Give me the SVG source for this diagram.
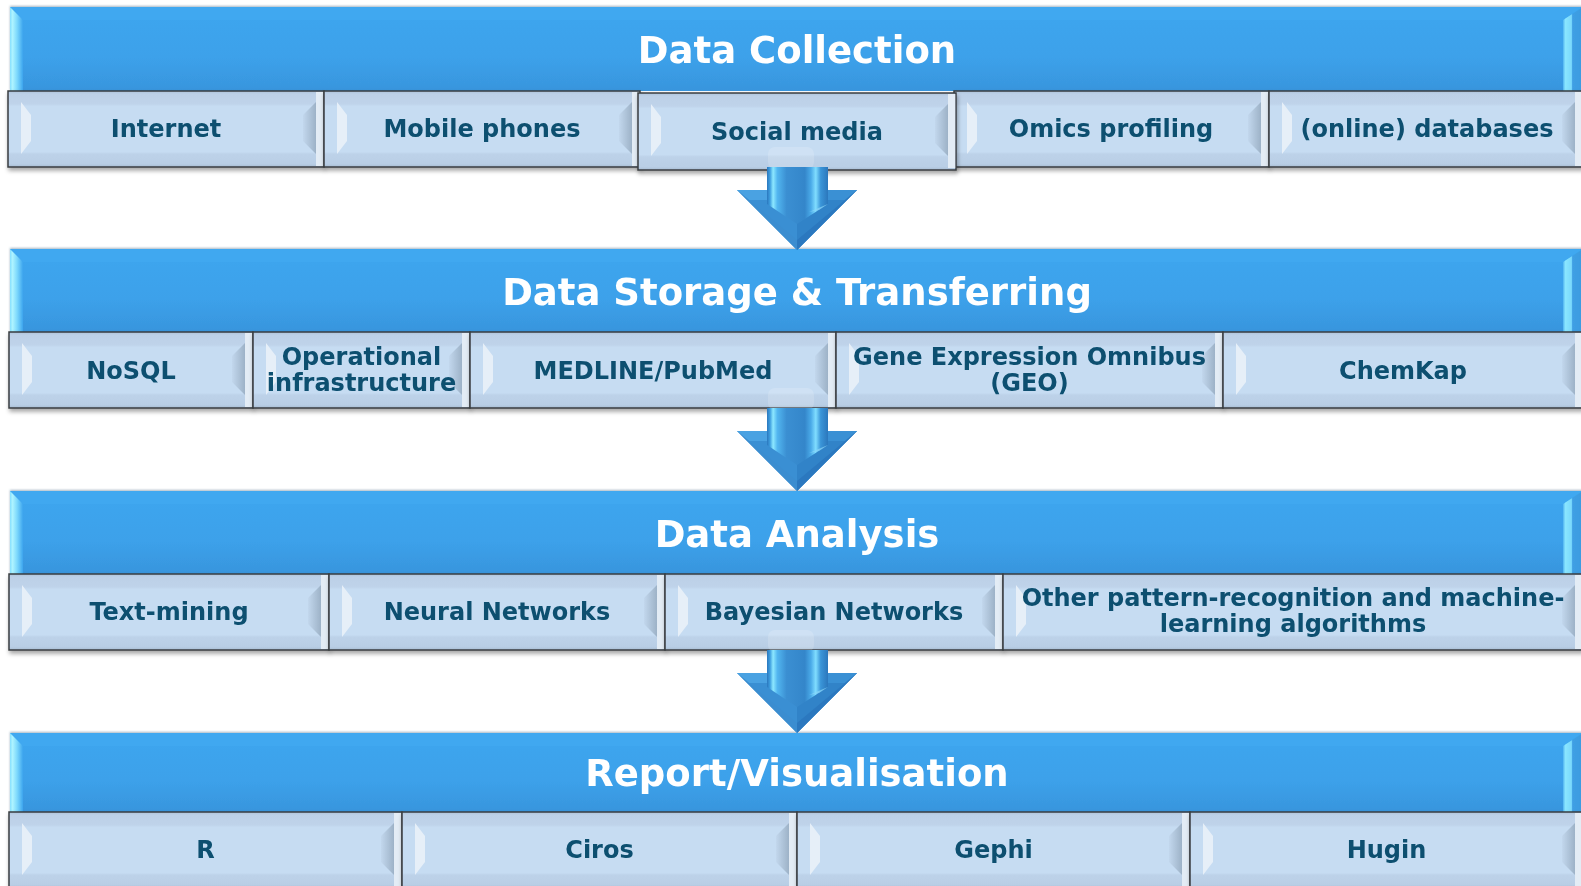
<svg xmlns="http://www.w3.org/2000/svg" xmlns:xlink="http://www.w3.org/1999/xlink" width="1581" height="886" viewBox="0 0 1581 886">
  <style>
    .hdr-body { fill: url(#hdrBody); }
    .hdr-top { fill: #3fa8f0; }
    .hdr-txt { font-family: "DejaVu Sans", Verdana, sans-serif; font-weight: bold; font-size: 37px; fill: #ffffff; text-anchor: middle; }
    .cell-body { fill: url(#cellBody); stroke: #3a3d40; stroke-width: 1.5; }
    .cell-txt { font-family: "DejaVu Sans", Verdana, sans-serif; font-weight: bold; font-size: 24px; fill: #0b4f6f; text-anchor: middle; }
    .glow { fill: #ffffff; opacity: 0.16; }
  </style>
  <defs>
    <linearGradient id="hdrBody" x1="0" y1="0" x2="0" y2="1">
      <stop offset="0" stop-color="#3da6ef"/>
      <stop offset="0.6" stop-color="#3ca1ea"/>
      <stop offset="1" stop-color="#3895dd"/>
    </linearGradient>
    <linearGradient id="hdrLeft" x1="0" y1="0" x2="1" y2="0">
      <stop offset="0" stop-color="#86e0ff"/>
      <stop offset="0.2" stop-color="#aef4ff"/>
      <stop offset="0.55" stop-color="#7cd8fc"/>
      <stop offset="1" stop-color="#3ea5ee"/>
    </linearGradient>
    <linearGradient id="hdrRight" x1="0" y1="0" x2="1" y2="0">
      <stop offset="0" stop-color="#4fb3f1"/>
      <stop offset="0.12" stop-color="#8ae6ff"/>
      <stop offset="0.42" stop-color="#7ad9fc"/>
      <stop offset="0.48" stop-color="#3f9fe4"/>
      <stop offset="1" stop-color="#3a9be0"/>
    </linearGradient>
    <linearGradient id="cellBody" x1="0" y1="0" x2="0" y2="1">
      <stop offset="0" stop-color="#aec3da"/>
      <stop offset="0.04" stop-color="#bcd0e7"/>
      <stop offset="0.17" stop-color="#bfd3ea"/>
      <stop offset="0.2" stop-color="#c6dcf2"/>
      <stop offset="0.8" stop-color="#c6dcf2"/>
      <stop offset="0.83" stop-color="#bdd2e9"/>
      <stop offset="0.96" stop-color="#b9cee5"/>
      <stop offset="1" stop-color="#a7bcd2"/>
    </linearGradient>
    <linearGradient id="cellRight" x1="0" y1="0" x2="1" y2="0">
      <stop offset="0" stop-color="#c2d7ed"/>
      <stop offset="1" stop-color="#9db2c7"/>
    </linearGradient>
    <linearGradient id="shaft" x1="0" y1="0" x2="1" y2="0">
      <stop offset="0" stop-color="#2a77bd"/>
      <stop offset="0.05" stop-color="#3f9fe0"/>
      <stop offset="0.1" stop-color="#8de8ff"/>
      <stop offset="0.17" stop-color="#52b6f0"/>
      <stop offset="0.32" stop-color="#3b8fd2"/>
      <stop offset="0.62" stop-color="#3486ca"/>
      <stop offset="0.72" stop-color="#4aaae8"/>
      <stop offset="0.8" stop-color="#80ddff"/>
      <stop offset="0.88" stop-color="#3a95d8"/>
      <stop offset="1" stop-color="#2b77bc"/>
    </linearGradient>
    <filter id="shadow" x="-5%" y="-20%" width="110%" height="150%">
      <feDropShadow dx="1" dy="3" stdDeviation="2" flood-color="#000000" flood-opacity="0.35"/>
    </filter>
    <filter id="hdrShadow" x="-5%" y="-20%" width="110%" height="150%">
      <feDropShadow dx="0" dy="-1" stdDeviation="1" flood-color="#4a6a88" flood-opacity="0.5"/>
    </filter>

    <!-- bevel faces of a header band, drawn from its top-left / top-right corner -->
    <g id="hdrL">
      <polygon points="0,0 13,13 13,84 0,84" fill="url(#hdrLeft)"/>
    </g>
    <g id="hdrR">
      <polygon points="0,0 -20,13 -20,84 0,84" fill="url(#hdrRight)"/>
    </g>

    <!-- bevel faces of a tile, drawn from its top-left / top-right corner -->
    <g id="bevL">
      <polygon points="13,11 23,24 23,50 13,63" fill="#e6eff8"/>
    </g>
    <g id="bevR">
      <rect x="-8" y="1" width="7.2" height="74" fill="#e3ecf5"/>
      <polygon points="-8,11 -21,24 -21,50 -8,63" fill="url(#cellRight)"/>
    </g>

    <!-- downward block arrow, origin at the tip -->
    <g id="arrow">
      <rect x="-29" y="-103" width="46" height="22" class="glow" rx="7"/>
      <polygon points="-60,-60 60,-60 0,0" fill="#3a8fd3"/>
      <polygon points="0,-60 60,-60 0,0" fill="#3183c8"/>
      <polygon points="-60,-60 -30,-60 -22,-50 -48,-50" fill="#4aa2e2"/>
      <polygon points="60,-60 31,-60 23,-50 48,-50" fill="#3a90d4"/>
      <polygon points="-48,-50 0,-10 0,0 -60,-60" fill="#3b8dd0"/>
      <polygon points="48,-50 0,-10 0,0 60,-60" fill="#2b78bf"/>
      <polygon points="-30,-83 31,-83 31,-46 0,-26 -30,-46" fill="url(#shaft)"/>
      <polygon points="31,-46 22,-40 12,-38" fill="#8ad6f8" opacity="0.7"/>
    </g>
  </defs>

  <rect width="1581" height="886" fill="#ffffff"/>

  <!-- ===== Stage 1 ===== -->
  <g id="hdr-collection" filter="url(#hdrShadow)">
    <rect class="hdr-body" x="10" y="7" width="1573" height="84"/>
    <polygon class="hdr-top" points="10,7 1583,7 1563,20 23,20"/>
    <use href="#hdrL" x="10" y="7"/>
    <use href="#hdrR" x="1583" y="7"/>
    <text class="hdr-txt" x="797" y="63">Data Collection</text>
  </g>
  <g id="cell-internet" filter="url(#shadow)">
    <rect class="cell-body" x="8" y="91" width="316" height="76"/>
    <use href="#bevL" x="8" y="91"/><use href="#bevR" x="324" y="91"/>
    <text class="cell-txt" x="166" y="137">Internet</text>
  </g>
  <g id="cell-mobile" filter="url(#shadow)">
    <rect class="cell-body" x="324" y="91" width="316" height="76"/>
    <use href="#bevL" x="324" y="91"/><use href="#bevR" x="640" y="91"/>
    <text class="cell-txt" x="482" y="137">Mobile phones</text>
  </g>
  <g id="cell-omics" filter="url(#shadow)">
    <rect class="cell-body" x="954" y="91" width="315" height="76"/>
    <use href="#bevL" x="954" y="91"/><use href="#bevR" x="1269" y="91"/>
    <text class="cell-txt" x="1111" y="137">Omics profiling</text>
  </g>
  <g id="cell-databases" filter="url(#shadow)">
    <rect class="cell-body" x="1269" y="91" width="314" height="76"/>
    <use href="#bevL" x="1269" y="91"/><use href="#bevR" x="1583" y="91"/>
    <text class="cell-txt" x="1427" y="137">(online) databases</text>
  </g>
  <g id="cell-social" filter="url(#shadow)">
    <rect class="cell-body" x="638" y="93" width="318" height="77"/>
    <use href="#bevL" x="638" y="93"/><use href="#bevR" x="956" y="93"/>
    <text class="cell-txt" x="797" y="140">Social media</text>
  </g>

  <!-- ===== Stage 2 ===== -->
  <g id="hdr-storage" filter="url(#hdrShadow)">
    <rect class="hdr-body" x="10" y="249" width="1573" height="83"/>
    <polygon class="hdr-top" points="10,249 1583,249 1563,262 23,262"/>
    <use href="#hdrL" x="10" y="249"/>
    <use href="#hdrR" x="1583" y="249"/>
    <text class="hdr-txt" x="797" y="305">Data Storage &amp; Transferring</text>
  </g>
  <g id="cell-nosql" filter="url(#shadow)">
    <rect class="cell-body" x="9" y="332" width="244" height="76"/>
    <use href="#bevL" x="9" y="332"/><use href="#bevR" x="253" y="332"/>
    <text class="cell-txt" x="131" y="379">NoSQL</text>
  </g>
  <g id="cell-operational" filter="url(#shadow)">
    <rect class="cell-body" x="253" y="332" width="217" height="76"/>
    <use href="#bevL" x="253" y="332"/><use href="#bevR" x="470" y="332"/>
    <text class="cell-txt" x="361.5" y="365">Operational</text>
    <text class="cell-txt" x="361.5" y="391">infrastructure</text>
  </g>
  <g id="cell-medline" filter="url(#shadow)">
    <rect class="cell-body" x="470" y="332" width="366" height="76"/>
    <use href="#bevL" x="470" y="332"/><use href="#bevR" x="836" y="332"/>
    <text class="cell-txt" x="653" y="379">MEDLINE/PubMed</text>
  </g>
  <g id="cell-geo" filter="url(#shadow)">
    <rect class="cell-body" x="836" y="332" width="387" height="76"/>
    <use href="#bevL" x="836" y="332"/><use href="#bevR" x="1223" y="332"/>
    <text class="cell-txt" x="1029.5" y="365">Gene Expression Omnibus</text>
    <text class="cell-txt" x="1029.5" y="391">(GEO)</text>
  </g>
  <g id="cell-chemkap" filter="url(#shadow)">
    <rect class="cell-body" x="1223" y="332" width="360" height="76"/>
    <use href="#bevL" x="1223" y="332"/><use href="#bevR" x="1583" y="332"/>
    <text class="cell-txt" x="1403" y="379">ChemKap</text>
  </g>

  <!-- ===== Stage 3 ===== -->
  <g id="hdr-analysis" filter="url(#hdrShadow)">
    <rect class="hdr-body" x="10" y="491" width="1573" height="83"/>
    <polygon class="hdr-top" points="10,491 1583,491 1563,504 23,504"/>
    <use href="#hdrL" x="10" y="491"/>
    <use href="#hdrR" x="1583" y="491"/>
    <text class="hdr-txt" x="797" y="547">Data Analysis</text>
  </g>
  <g id="cell-textmining" filter="url(#shadow)">
    <rect class="cell-body" x="9" y="574" width="320" height="76"/>
    <use href="#bevL" x="9" y="574"/><use href="#bevR" x="329" y="574"/>
    <text class="cell-txt" x="169" y="620">Text-mining</text>
  </g>
  <g id="cell-neural" filter="url(#shadow)">
    <rect class="cell-body" x="329" y="574" width="336" height="76"/>
    <use href="#bevL" x="329" y="574"/><use href="#bevR" x="665" y="574"/>
    <text class="cell-txt" x="497" y="620">Neural Networks</text>
  </g>
  <g id="cell-bayesian" filter="url(#shadow)">
    <rect class="cell-body" x="665" y="574" width="338" height="76"/>
    <use href="#bevL" x="665" y="574"/><use href="#bevR" x="1003" y="574"/>
    <text class="cell-txt" x="834" y="620">Bayesian Networks</text>
  </g>
  <g id="cell-other" filter="url(#shadow)">
    <rect class="cell-body" x="1003" y="574" width="580" height="76"/>
    <use href="#bevL" x="1003" y="574"/><use href="#bevR" x="1583" y="574"/>
    <text class="cell-txt" x="1293" y="606">Other pattern-recognition and machine-</text>
    <text class="cell-txt" x="1293" y="632">learning algorithms</text>
  </g>

  <!-- ===== Stage 4 ===== -->
  <g id="hdr-report" filter="url(#hdrShadow)">
    <rect class="hdr-body" x="10" y="733" width="1573" height="79"/>
    <polygon class="hdr-top" points="10,733 1583,733 1563,746 23,746"/>
    <use href="#hdrL" x="10" y="733"/>
    <use href="#hdrR" x="1583" y="733"/>
    <text class="hdr-txt" x="797" y="786">Report/Visualisation</text>
  </g>
  <g id="cell-r" filter="url(#shadow)">
    <rect class="cell-body" x="9" y="812" width="393" height="76"/>
    <use href="#bevL" x="9" y="812"/><use href="#bevR" x="402" y="812"/>
    <text class="cell-txt" x="205.5" y="858">R</text>
  </g>
  <g id="cell-ciros" filter="url(#shadow)">
    <rect class="cell-body" x="402" y="812" width="395" height="76"/>
    <use href="#bevL" x="402" y="812"/><use href="#bevR" x="797" y="812"/>
    <text class="cell-txt" x="599.5" y="858">Ciros</text>
  </g>
  <g id="cell-gephi" filter="url(#shadow)">
    <rect class="cell-body" x="797" y="812" width="393" height="76"/>
    <use href="#bevL" x="797" y="812"/><use href="#bevR" x="1190" y="812"/>
    <text class="cell-txt" x="993.5" y="858">Gephi</text>
  </g>
  <g id="cell-hugin" filter="url(#shadow)">
    <rect class="cell-body" x="1190" y="812" width="393" height="76"/>
    <use href="#bevL" x="1190" y="812"/><use href="#bevR" x="1583" y="812"/>
    <text class="cell-txt" x="1386.5" y="858">Hugin</text>
  </g>

  <!-- ===== connectors between stages ===== -->
  <g id="connectors">
    <use href="#arrow" x="797" y="250"/>
    <use href="#arrow" x="797" y="491"/>
    <use href="#arrow" x="797" y="733"/>
  </g>
</svg>
